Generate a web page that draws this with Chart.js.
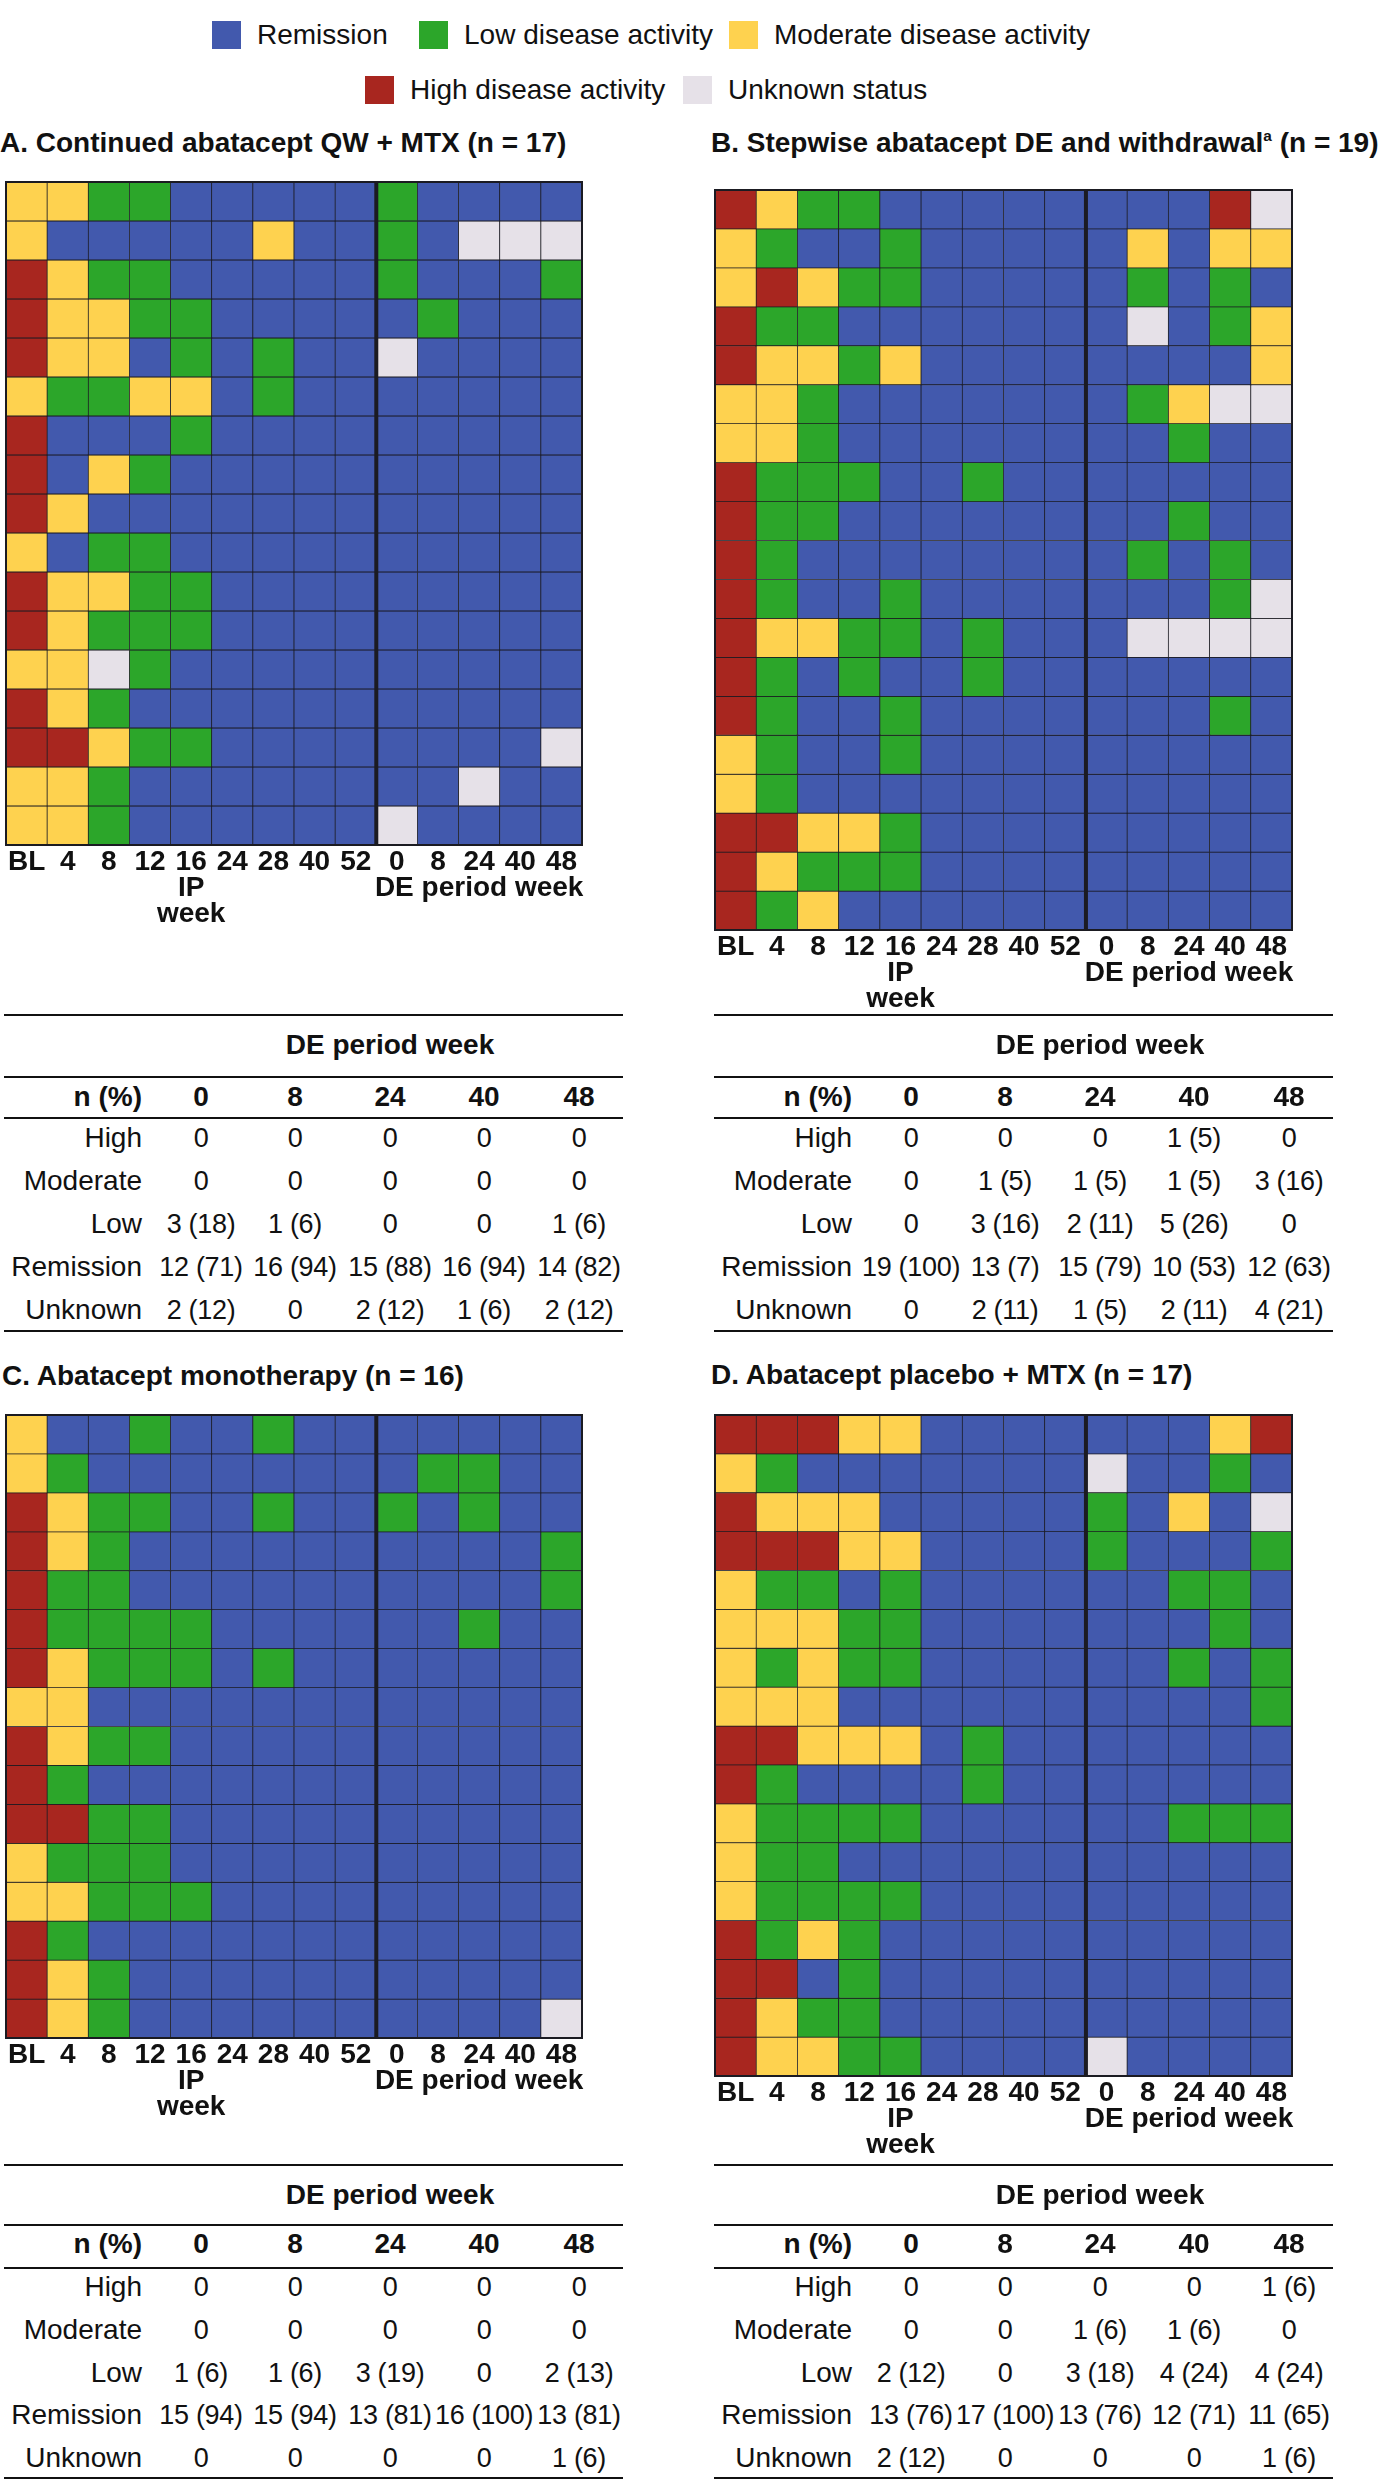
<!DOCTYPE html>
<html><head><meta charset="utf-8">
<script src="https://cdn.jsdelivr.net/npm/chart.js@4.4.1/dist/chart.umd.min.js"></script>
<style>
html,body{margin:0;padding:0;background:#fff}
body{width:1392px;height:2481px;position:relative;overflow:hidden;font-family:"Liberation Sans",Arial,Helvetica,sans-serif;color:#111}
.t{position:absolute;white-space:nowrap;font-size:28px;line-height:28px;transform:translateY(-50%)}
.v{font-size:27px;letter-spacing:-0.3px}
.b{font-weight:bold}
.sq{position:absolute}
.hl{position:absolute;height:2px;background:#111}
canvas{position:absolute}
</style></head><body>
<script>
// ---------- DATA ----------
const weekLabels = ['BL','4','8','12','16','24','28','40','52','0','8','24','40','48'];
const ipAxisLabel = ['IP','week'];
const deAxisLabel = 'DE period week';
const deWeeks = ['0','8','24','40','48'];
const statusCodes = ['R','L','M','H','U'];
const statusNames = ['Remission','Low disease activity','Moderate disease activity','High disease activity','Unknown status'];
const statusColors = ['#4259ad','#2ca62a','#fed24f','#a8261f','#e6e1e8'];
const tableRowNames = ['High','Moderate','Low','Remission','Unknown'];

const titles = [
  'A. Continued abatacept QW + MTX (n = 17)',
  'B. Stepwise abatacept DE and withdrawal<span style="font-size:0.55em;vertical-align:0.7em;line-height:0">a</span> (n = 19)',
  'C. Abatacept monotherapy (n = 16)',
  'D. Abatacept placebo + MTX (n = 17)'
];

// R = remission, L = low, M = moderate, H = high, U = unknown; one string per patient, 14 visits
const gridA = [
 'MMLLRRRRRLRRRR','MRRRRRMRRLRUUU','HMLLRRRRRLRRRL','HMMLLRRRRRLRRR','HMMRLRLRRURRRR',
 'MLLMMRLRRRRRRR','HRRRLRRRRRRRRR','HRMLRRRRRRRRRR','HMRRRRRRRRRRRR','MRLLRRRRRRRRRR',
 'HMMLLRRRRRRRRR','HMLLLRRRRRRRRR','MMULRRRRRRRRRR','HMLRRRRRRRRRRR','HHMLLRRRRRRRRU',
 'MMLRRRRRRRRURR','MMLRRRRRRURRRR'];
const gridB = [
 'HMLLRRRRRRRRHU','MLRRLRRRRRMRMM','MHMLLRRRRRLRLR','HLLRRRRRRRURLM','HMMLMRRRRRRRRM',
 'MMLRRRRRRRLMUU','MMLRRRRRRRRLRR','HLLLRRLRRRRRRR','HLLRRRRRRRRLRR','HLRRRRRRRRLRLR',
 'HLRRLRRRRRRRLU','HMMLLRLRRRUUUU','HLRLRRLRRRRRRR','HLRRLRRRRRRRLR','MLRRLRRRRRRRRR',
 'MLRRRRRRRRRRRR','HHMMLRRRRRRRRR','HMLLLRRRRRRRRR','HLMRRRRRRRRRRR'];
const gridC = [
 'MRRLRRLRRRRRRR','MLRRRRRRRRLLRR','HMLLRRLRRLRLRR','HMLRRRRRRRRRRL','HLLRRRRRRRRRRL',
 'HLLLLRRRRRRLRR','HMLLLRLRRRRRRR','MMRRRRRRRRRRRR','HMLLRRRRRRRRRR','HLRRRRRRRRRRRR',
 'HHLLRRRRRRRRRR','MLLLRRRRRRRRRR','MMLLLRRRRRRRRR','HLRRRRRRRRRRRR','HMLRRRRRRRRRRR',
 'HMLRRRRRRRRRRU'];
const gridD = [
 'HHHMMRRRRRRRMH','MLRRRRRRRURRLR','HMMMRRRRRLRMRU','HHHMMRRRRLRRRL','MLLRLRRRRRRLLR',
 'MMMLLRRRRRRRLR','MLMLLRRRRRRLRL','MMMRRRRRRRRRRL','HHMMMRLRRRRRRR','HLRRRRLRRRRRRR',
 'MLLLLRRRRRRLLL','MLLRRRRRRRRRRR','MLLLLRRRRRRRRR','HLMLRRRRRRRRRR','HHRLRRRRRRRRRR',
 'HMLLRRRRRRRRRR','HMMLLRRRRURRRR'];

// n (%) tables, rows: High, Moderate, Low, Remission, Unknown; columns: DE weeks 0, 8, 24, 40, 48
const tableA = [
 ['0','0','0','0','0'],['0','0','0','0','0'],['3 (18)','1 (6)','0','0','1 (6)'],
 ['12 (71)','16 (94)','15 (88)','16 (94)','14 (82)'],['2 (12)','0','2 (12)','1 (6)','2 (12)']];
const tableB = [
 ['0','0','0','1 (5)','0'],['0','1 (5)','1 (5)','1 (5)','3 (16)'],['0','3 (16)','2 (11)','5 (26)','0'],
 ['19 (100)','13 (7)','15 (79)','10 (53)','12 (63)'],['0','2 (11)','1 (5)','2 (11)','4 (21)']];
const tableC = [
 ['0','0','0','0','0'],['0','0','0','0','0'],['1 (6)','1 (6)','3 (19)','0','2 (13)'],
 ['15 (94)','15 (94)','13 (81)','16 (100)','13 (81)'],['0','0','0','0','1 (6)']];
const tableD = [
 ['0','0','0','0','1 (6)'],['0','0','1 (6)','1 (6)','0'],['2 (12)','0','3 (18)','4 (24)','4 (24)'],
 ['13 (76)','17 (100)','13 (76)','12 (71)','11 (65)'],['2 (12)','0','0','0','1 (6)']];

// ---------- LAYOUT ----------
const panels = [
 {title:titles[0], grid:gridA, table:tableA, tx:0,   ty:143,  gx:6,   gy:182,  gw:576, gh:663, dx:0,   tb:'top'},
 {title:titles[1], grid:gridB, table:tableB, tx:711, ty:143,  gx:715, gy:190,  gw:577, gh:740, dx:710, tb:'top'},
 {title:titles[2], grid:gridC, table:tableC, tx:2,   ty:1376, gx:6,   gy:1415, gw:576, gh:623, dx:0,   tb:'bottom'},
 {title:titles[3], grid:gridD, table:tableD, tx:711, ty:1375, gx:715, gy:1415, gw:577, gh:661, dx:710, tb:'bottom'}
];
const tableLayouts = {
 top:    {l1:1015, title:1045, l2:1077, head:1097, l3:1118, row0:1138, step:43,    l4:1331},
 bottom: {l1:2165, title:2195, l2:2225, head:2244, l3:2268, row0:2287, step:42.75, l4:2478}
};
const tblCols = [201,295,390,484,579];
const tblLabelRight = 142;
const tblLineX = [4,623];

const legendItems = [
 {s:0,x:212,y:35},{s:1,x:419,y:35},{s:2,x:729,y:35},{s:3,x:365,y:90},{s:4,x:683,y:90}
];

// ---------- HELPERS ----------
function addText(html, x, y, align, cls){
  const d = document.createElement('div');
  d.className = 't' + (cls ? ' ' + cls : '');
  d.innerHTML = html;
  d.style.top = y + 'px';
  d.style.left = x + 'px';
  if (align === 'center') d.style.transform = 'translate(-50%,-50%)';
  else if (align === 'right') d.style.transform = 'translate(-100%,-50%)';
  document.body.appendChild(d);
  return d;
}
function addLine(x0, x1, y){
  const d = document.createElement('div');
  d.className = 'hl';
  d.style.left = x0 + 'px'; d.style.width = (x1 - x0) + 'px'; d.style.top = (y - 1) + 'px';
  document.body.appendChild(d);
}

// ---------- LEGEND ----------
legendItems.forEach(it => {
  const sq = document.createElement('div');
  sq.className = 'sq';
  sq.style.cssText = `left:${it.x}px;top:${it.y-14}px;width:29px;height:28px;background:${statusColors[it.s]}`;
  document.body.appendChild(sq);
  addText(statusNames[it.s], it.x + 45, it.y, 'left', '');
});

// ---------- CHARTS ----------
const framePlugin = {
  id:'frame',
  afterDatasetsDraw(chart){
    const {ctx, chartArea:a, scales:{x}} = chart;
    ctx.save();
    ctx.strokeStyle = '#1b1b22';
    ctx.lineWidth = 2;
    ctx.strokeRect(a.left, a.top, a.right - a.left, a.bottom - a.top);
    const xd = (x.getPixelForValue(8) + x.getPixelForValue(9)) / 2;
    ctx.lineWidth = 4;
    ctx.beginPath(); ctx.moveTo(xd, a.top); ctx.lineTo(xd, a.bottom); ctx.stroke();
    ctx.restore();
  }
};

function makeChart(p){
  const padL = 30, padR = 30, padT = 10, axisH = 110;
  const c = document.createElement('canvas');
  const w = p.gw + padL + padR, h = p.gh + padT + axisH;
  c.width = w; c.height = h;
  c.style.width = w + 'px'; c.style.height = h + 'px';
  c.style.left = (p.gx - padL) + 'px'; c.style.top = (p.gy - padT) + 'px';
  document.body.appendChild(c);
  const labels = weekLabels.map((l, i) => i === 4 ? [l].concat(ipAxisLabel) : (i === 11 ? [l, deAxisLabel] : l));
  const datasets = p.grid.map((row, ri) => ({
    label: 'Patient ' + (ri + 1),
    data: weekLabels.map(() => 1),
    backgroundColor: row.split('').map(ch => statusColors[statusCodes.indexOf(ch)]),
    borderColor: '#1b1b22',
    borderWidth: 0.75,
    borderSkipped: false,
    barPercentage: 1,
    categoryPercentage: 1,
    stack: 's'
  }));
  new Chart(c, {
    type: 'bar',
    data: {labels, datasets},
    options: {
      responsive: false, maintainAspectRatio: false, animation: false,
      layout: {padding: {left: padL, right: padR, top: padT, bottom: 0}},
      plugins: {legend: {display: false}, tooltip: {enabled: false}},
      scales: {
        x: {
          stacked: true, offset: true,
          grid: {display: false, drawTicks: false}, border: {display: false},
          ticks: {autoSkip: false, maxRotation: 0, minRotation: 0, padding: 4, color: '#111',
                  font: {family: '"Liberation Sans", Arial, sans-serif', weight: 'bold', size: 28, lineHeight: 26/28}},
          afterFit(s){ s.height = axisH; }
        },
        y: {stacked: true, display: false, min: 0, max: p.grid.length, reverse: true}
      }
    },
    plugins: [framePlugin]
  });
}

// ---------- TABLES ----------
function makeTable(p){
  const L = tableLayouts[p.tb], dx = p.dx;
  addLine(tblLineX[0] + dx, tblLineX[1] + dx, L.l1);
  addText(deAxisLabel, tblCols[2] + dx, L.title, 'center', 'b');
  addLine(tblLineX[0] + dx, tblLineX[1] + dx, L.l2);
  addText('n (%)', tblLabelRight + dx, L.head, 'right', 'b');
  deWeeks.forEach((wk, j) => addText(wk, tblCols[j] + dx, L.head, 'center', 'b'));
  addLine(tblLineX[0] + dx, tblLineX[1] + dx, L.l3);
  p.table.forEach((row, i) => {
    const y = L.row0 + i * L.step;
    addText(tableRowNames[i], tblLabelRight + dx, y, 'right', '');
    row.forEach((v, j) => addText(v, tblCols[j] + dx, y, 'center', 'v'));
  });
  addLine(tblLineX[0] + dx, tblLineX[1] + dx, L.l4);
}

panels.forEach(p => {
  addText(p.title, p.tx, p.ty, 'left', 'b');
  makeChart(p);
  makeTable(p);
});
</script>
</body></html>
